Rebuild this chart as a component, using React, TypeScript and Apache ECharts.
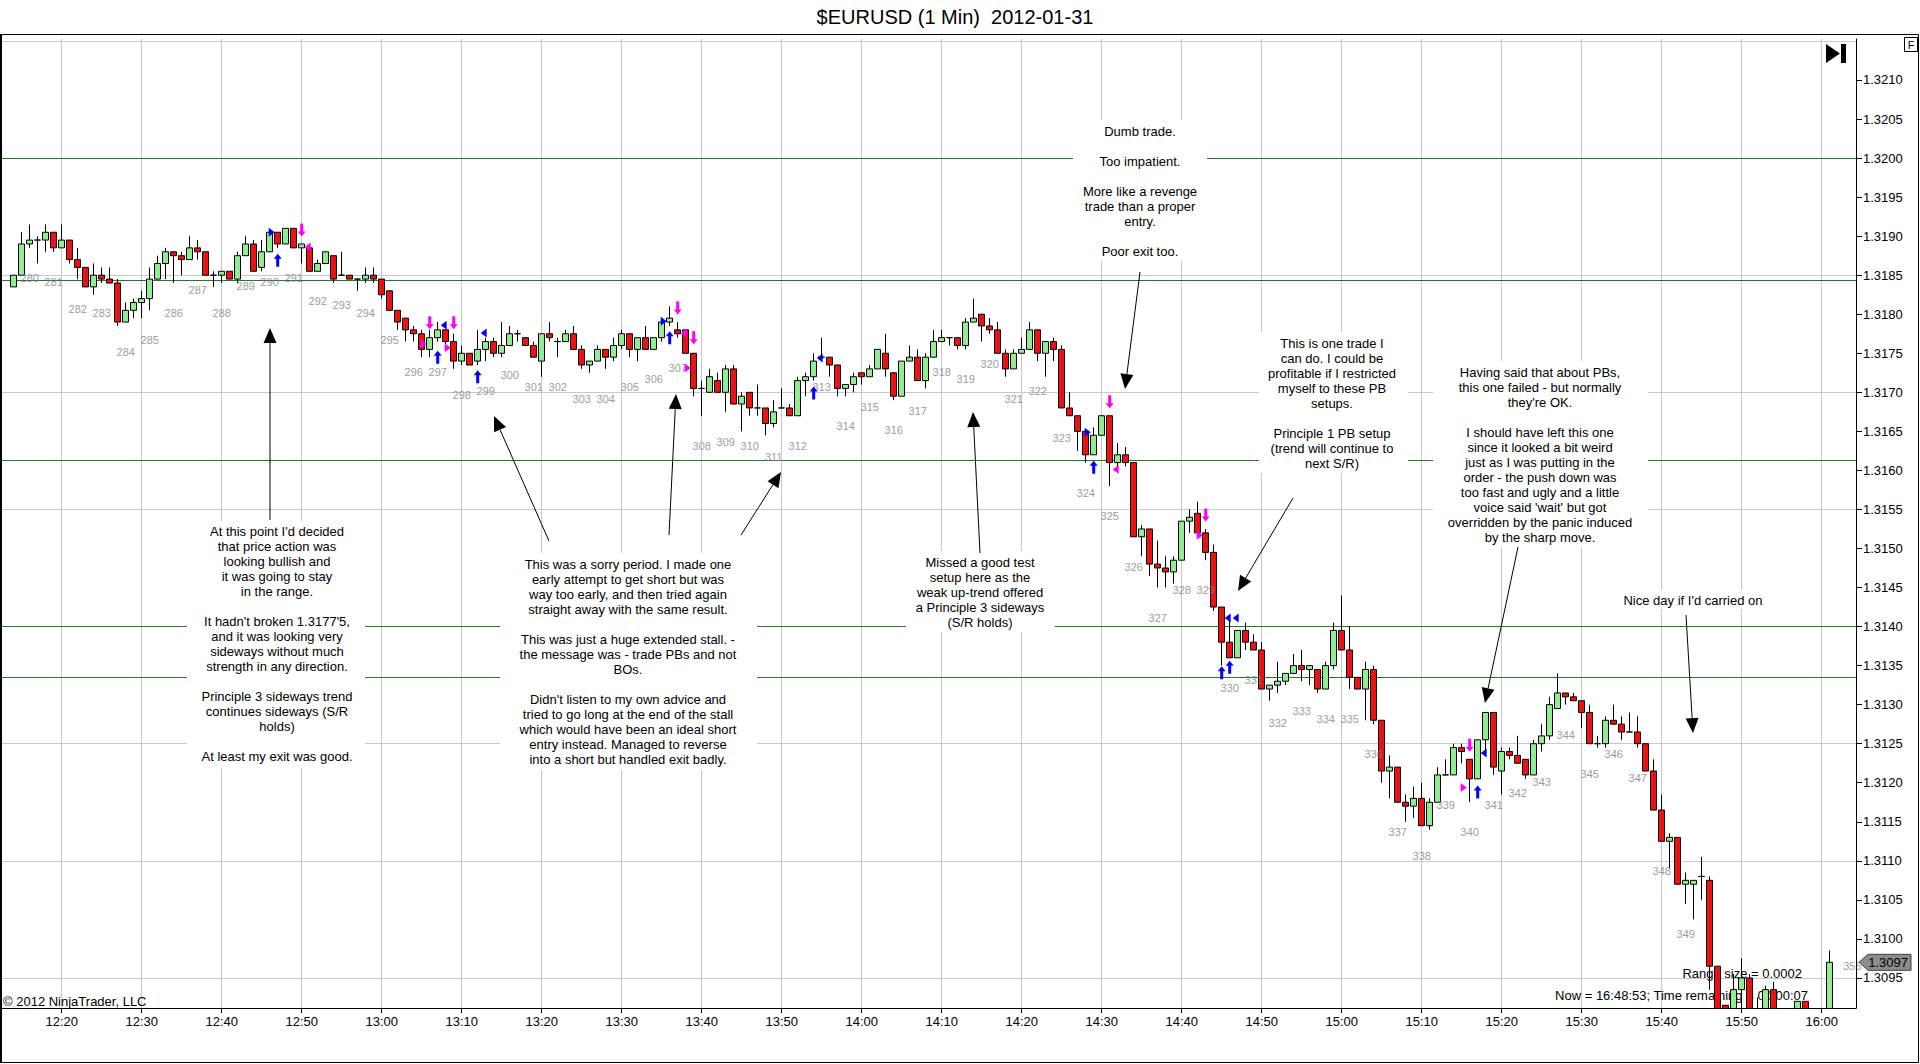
import React, { useEffect, useRef } from "react";
import * as echarts from "echarts";

type Bar = [string, number, number, number, number]; // time, open, high, low, close

const bars12: Bar[] = [
  ["12:14", 1.31835, 1.3185, 1.31835, 1.3185],
  ["12:15", 1.3185, 1.31905, 1.3185, 1.3189],
  ["12:16", 1.3189, 1.31915, 1.31885, 1.31895],
  ["12:17", 1.31895, 1.319, 1.31865, 1.31895],
  ["12:18", 1.31895, 1.31915, 1.3188, 1.31905],
  ["12:19", 1.31905, 1.31905, 1.3188, 1.31885],
  ["12:20", 1.31885, 1.31915, 1.31885, 1.31895],
  ["12:21", 1.31895, 1.31895, 1.31865, 1.3187],
  ["12:22", 1.3187, 1.31885, 1.31845, 1.3186],
  ["12:23", 1.3186, 1.3186, 1.31835, 1.31835],
  ["12:24", 1.31835, 1.31865, 1.31825, 1.3185],
  ["12:25", 1.3185, 1.3186, 1.3184, 1.31845],
  ["12:26", 1.31845, 1.3186, 1.3184, 1.3184],
  ["12:27", 1.3184, 1.31845, 1.31785, 1.3179],
  ["12:28", 1.3179, 1.31815, 1.3179, 1.31805],
  ["12:29", 1.31805, 1.3182, 1.31795, 1.31815],
  ["12:30", 1.31815, 1.3183, 1.31795, 1.3182],
  ["12:31", 1.3182, 1.3186, 1.31805, 1.31845],
  ["12:32", 1.31845, 1.31875, 1.31845, 1.31865],
  ["12:33", 1.31865, 1.31885, 1.31845, 1.3188],
  ["12:34", 1.3188, 1.3188, 1.3184, 1.31875],
  ["12:35", 1.31875, 1.3188, 1.3185, 1.3187],
  ["12:36", 1.3187, 1.319, 1.3187, 1.31885],
  ["12:37", 1.31885, 1.31895, 1.3187, 1.3188],
  ["12:38", 1.3188, 1.3188, 1.3185, 1.3185],
  ["12:39", 1.3185, 1.31855, 1.31835, 1.3185],
  ["12:40", 1.3185, 1.31855, 1.3184, 1.31855],
  ["12:41", 1.31855, 1.31855, 1.31845, 1.31845],
  ["12:42", 1.31845, 1.3188, 1.3184, 1.31875],
  ["12:43", 1.31875, 1.319, 1.31875, 1.3189],
  ["12:44", 1.3189, 1.31895, 1.31855, 1.31855],
  ["12:45", 1.3186, 1.31895, 1.31855, 1.3188],
  ["12:46", 1.3188, 1.31905, 1.3188, 1.31905],
  ["12:47", 1.31905, 1.31905, 1.31885, 1.3189],
  ["12:48", 1.3189, 1.3191, 1.3189, 1.3191],
  ["12:49", 1.3191, 1.3191, 1.31885, 1.31885],
  ["12:50", 1.31885, 1.3189, 1.31865, 1.3189],
  ["12:51", 1.31885, 1.3189, 1.31855, 1.31855],
  ["12:52", 1.31855, 1.3187, 1.31855, 1.31865],
  ["12:53", 1.31865, 1.3188, 1.31865, 1.3188],
  ["12:54", 1.31875, 1.31875, 1.3184, 1.31845],
  ["12:55", 1.3185, 1.3188, 1.3185, 1.3185],
  ["12:56", 1.3185, 1.3185, 1.31845, 1.31845],
  ["12:57", 1.31845, 1.31845, 1.3183, 1.31845],
  ["12:58", 1.31845, 1.3186, 1.3184, 1.3185],
  ["12:59", 1.3185, 1.3186, 1.3184, 1.31845],
];

const bars13: Bar[] = [
  ["13:00", 1.31845, 1.31845, 1.3182, 1.31825],
  ["13:01", 1.3183, 1.3183, 1.31805, 1.31805],
  ["13:02", 1.31805, 1.31805, 1.3178, 1.3179],
  ["13:03", 1.31795, 1.31795, 1.31765, 1.3178],
  ["13:04", 1.3178, 1.31785, 1.31765, 1.31775],
  ["13:05", 1.31775, 1.3178, 1.31745, 1.31755],
  ["13:06", 1.31755, 1.3178, 1.31745, 1.3177],
  ["13:07", 1.3177, 1.3179, 1.31765, 1.3178],
  ["13:08", 1.3178, 1.3178, 1.3176, 1.31765],
  ["13:09", 1.31765, 1.31775, 1.3173, 1.3174],
  ["13:10", 1.3174, 1.3176, 1.31735, 1.3175],
  ["13:11", 1.3175, 1.3175, 1.31735, 1.31735],
  ["13:12", 1.3174, 1.3178, 1.31735, 1.31755],
  ["13:13", 1.31755, 1.3177, 1.3174, 1.31765],
  ["13:14", 1.31765, 1.3177, 1.31745, 1.3175],
  ["13:15", 1.3175, 1.3179, 1.31745, 1.3176],
  ["13:16", 1.3176, 1.31785, 1.3176, 1.31775],
  ["13:17", 1.31775, 1.3178, 1.31765, 1.31775],
  ["13:18", 1.3177, 1.3177, 1.3176, 1.3176],
  ["13:19", 1.3176, 1.31765, 1.31745, 1.31745],
  ["13:20", 1.3174, 1.31775, 1.3172, 1.31775],
  ["13:21", 1.31775, 1.3179, 1.31765, 1.3177],
  ["13:22", 1.31765, 1.3177, 1.31745, 1.31765],
  ["13:23", 1.31765, 1.3178, 1.31765, 1.31775],
  ["13:24", 1.31775, 1.31785, 1.31755, 1.31755],
  ["13:25", 1.31755, 1.3176, 1.3173, 1.31735],
  ["13:26", 1.31735, 1.3174, 1.31725, 1.3174],
  ["13:27", 1.3174, 1.3176, 1.3174, 1.31755],
  ["13:28", 1.31755, 1.31755, 1.3173, 1.31745],
  ["13:29", 1.31745, 1.3177, 1.3174, 1.3176],
  ["13:30", 1.3176, 1.3178, 1.31755, 1.31775],
  ["13:31", 1.31775, 1.31775, 1.31745, 1.31755],
  ["13:32", 1.31755, 1.3177, 1.3174, 1.3177],
  ["13:33", 1.3177, 1.31785, 1.31755, 1.31755],
  ["13:34", 1.31755, 1.3177, 1.31755, 1.3177],
  ["13:35", 1.3177, 1.3179, 1.31765, 1.3179],
  ["13:36", 1.3179, 1.3181, 1.31785, 1.31795],
  ["13:37", 1.3178, 1.3179, 1.3177, 1.31775],
  ["13:38", 1.3178, 1.3178, 1.3175, 1.3175],
  ["13:39", 1.3175, 1.3175, 1.31695, 1.31705],
  ["13:40", 1.31705, 1.31715, 1.3167, 1.31705],
  ["13:41", 1.317, 1.3173, 1.317, 1.3172],
  ["13:42", 1.31715, 1.31725, 1.317, 1.317],
  ["13:43", 1.317, 1.31735, 1.31675, 1.3173],
  ["13:44", 1.3173, 1.31735, 1.31685, 1.31685],
  ["13:45", 1.31685, 1.317, 1.3165, 1.31695],
  ["13:46", 1.317, 1.317, 1.3167, 1.3168],
  ["13:47", 1.3168, 1.3171, 1.3167, 1.3168],
  ["13:48", 1.3168, 1.3168, 1.31645, 1.3166],
  ["13:49", 1.3166, 1.3169, 1.31655, 1.31675],
  ["13:50", 1.3168, 1.31705, 1.3168, 1.3168],
  ["13:51", 1.3168, 1.31685, 1.3167, 1.3167],
  ["13:52", 1.3167, 1.3172, 1.3167, 1.31715],
  ["13:53", 1.31715, 1.31725, 1.31695, 1.3172],
  ["13:54", 1.3172, 1.3175, 1.31715, 1.3174],
  ["13:55", 1.31745, 1.3177, 1.31745, 1.31745],
  ["13:56", 1.31745, 1.31745, 1.3172, 1.31735],
  ["13:57", 1.31735, 1.31735, 1.31695, 1.31705],
  ["13:58", 1.31705, 1.3171, 1.31695, 1.3171],
  ["13:59", 1.3171, 1.31725, 1.317, 1.3172],
];

const bars14: Bar[] = [
  ["14:00", 1.31725, 1.31725, 1.3171, 1.3172],
  ["14:01", 1.3172, 1.31735, 1.3172, 1.3173],
  ["14:02", 1.3173, 1.31755, 1.3173, 1.31755],
  ["14:03", 1.3175, 1.31775, 1.3172, 1.3173],
  ["14:04", 1.31725, 1.31725, 1.3169, 1.31695],
  ["14:05", 1.31695, 1.3174, 1.31695, 1.3174],
  ["14:06", 1.3174, 1.3176, 1.3174, 1.31745],
  ["14:07", 1.31745, 1.31755, 1.31715, 1.31715],
  ["14:08", 1.31715, 1.3175, 1.31705, 1.31745],
  ["14:09", 1.31745, 1.3178, 1.31745, 1.31765],
  ["14:10", 1.31765, 1.3178, 1.31765, 1.3177],
  ["14:11", 1.3177, 1.3177, 1.3176, 1.3177],
  ["14:12", 1.3177, 1.3177, 1.31755, 1.3176],
  ["14:13", 1.3176, 1.31795, 1.31755, 1.3179],
  ["14:14", 1.3179, 1.3182, 1.3179, 1.31795],
  ["14:15", 1.318, 1.318, 1.31765, 1.31785],
  ["14:16", 1.31785, 1.31795, 1.31775, 1.3178],
  ["14:17", 1.3178, 1.3179, 1.3175, 1.3175],
  ["14:18", 1.3175, 1.31755, 1.3172, 1.3173],
  ["14:19", 1.3173, 1.31755, 1.3173, 1.3175],
  ["14:20", 1.3175, 1.3177, 1.3175, 1.31755],
  ["14:21", 1.31755, 1.3179, 1.31755, 1.3178],
  ["14:22", 1.3178, 1.3178, 1.3174, 1.3175],
  ["14:23", 1.3175, 1.31765, 1.3172, 1.31765],
  ["14:24", 1.31765, 1.3177, 1.3174, 1.31755],
  ["14:25", 1.31755, 1.3176, 1.3168, 1.3168],
  ["14:26", 1.3168, 1.317, 1.3167, 1.3167],
  ["14:27", 1.3167, 1.3167, 1.31625, 1.3165],
  ["14:28", 1.3165, 1.3165, 1.3161, 1.3162],
  ["14:29", 1.3162, 1.31655, 1.3162, 1.31645],
  ["14:30", 1.31645, 1.3167, 1.31645, 1.3167],
  ["14:31", 1.3167, 1.3167, 1.3158, 1.3161],
  ["14:32", 1.3161, 1.31635, 1.31605, 1.3162],
  ["14:33", 1.3162, 1.3163, 1.31605, 1.3161],
  ["14:34", 1.3161, 1.3161, 1.31515, 1.31515],
  ["14:35", 1.31515, 1.3153, 1.3149, 1.31525],
  ["14:36", 1.31525, 1.31525, 1.31465, 1.3148],
  ["14:37", 1.3148, 1.3151, 1.3145, 1.31475],
  ["14:38", 1.31475, 1.3149, 1.3145, 1.3147],
  ["14:39", 1.3147, 1.3149, 1.31455, 1.31485],
  ["14:40", 1.31485, 1.31535, 1.31485, 1.31535],
  ["14:41", 1.31535, 1.3155, 1.3152, 1.3154],
  ["14:42", 1.31545, 1.3156, 1.3152, 1.3152],
  ["14:43", 1.3152, 1.31525, 1.31485, 1.31495],
  ["14:44", 1.31495, 1.31505, 1.3142, 1.31425],
  ["14:45", 1.31425, 1.31425, 1.3135, 1.3138],
  ["14:46", 1.3138, 1.3141, 1.3136, 1.3136],
  ["14:47", 1.3136, 1.31395, 1.3136, 1.31395],
  ["14:48", 1.31395, 1.31405, 1.3137, 1.3138],
  ["14:49", 1.3138, 1.3139, 1.3137, 1.3137],
  ["14:50", 1.3137, 1.3138, 1.3132, 1.3132],
  ["14:51", 1.3132, 1.31325, 1.31305, 1.31325],
  ["14:52", 1.31325, 1.31355, 1.31315, 1.3133],
  ["14:53", 1.3133, 1.3134, 1.31325, 1.3134],
  ["14:54", 1.3134, 1.31365, 1.3134, 1.3135],
  ["14:55", 1.3135, 1.3137, 1.3133, 1.31345],
  ["14:56", 1.31345, 1.3135, 1.31325, 1.3135],
  ["14:57", 1.31345, 1.31345, 1.31315, 1.3132],
  ["14:58", 1.3132, 1.31355, 1.3132, 1.3135],
  ["14:59", 1.3135, 1.31405, 1.31345, 1.31395],
];

const bars15: Bar[] = [
  ["15:00", 1.31395, 1.3144, 1.3137, 1.3137],
  ["15:01", 1.3137, 1.314, 1.3132, 1.31335],
  ["15:02", 1.31335, 1.31335, 1.3132, 1.3132],
  ["15:03", 1.3132, 1.31355, 1.3128, 1.31345],
  ["15:04", 1.31345, 1.3135, 1.31275, 1.3128],
  ["15:05", 1.3128, 1.3128, 1.312, 1.31215],
  ["15:06", 1.31215, 1.31235, 1.3118, 1.3122],
  ["15:07", 1.3122, 1.3122, 1.31175, 1.31175],
  ["15:08", 1.31175, 1.31185, 1.3115, 1.3117],
  ["15:09", 1.3117, 1.31195, 1.31155, 1.3118],
  ["15:10", 1.3118, 1.312, 1.31145, 1.31145],
  ["15:11", 1.31145, 1.3118, 1.3114, 1.31175],
  ["15:12", 1.31175, 1.3122, 1.31175, 1.3121],
  ["15:13", 1.3121, 1.3123, 1.3121, 1.3121],
  ["15:14", 1.3121, 1.3125, 1.3121, 1.31245],
  ["15:15", 1.31245, 1.3125, 1.31225, 1.3124],
  ["15:16", 1.3123, 1.3123, 1.31175, 1.31205],
  ["15:17", 1.31205, 1.31255, 1.31205, 1.31255],
  ["15:18", 1.31255, 1.3129, 1.3124, 1.3129],
  ["15:19", 1.3129, 1.3129, 1.3121, 1.3122],
  ["15:20", 1.31215, 1.31245, 1.31185, 1.3124],
  ["15:21", 1.3124, 1.31245, 1.3123, 1.31235],
  ["15:22", 1.31235, 1.3126, 1.31225, 1.31225],
  ["15:23", 1.3123, 1.3123, 1.31205, 1.3121],
  ["15:24", 1.3121, 1.31255, 1.3121, 1.3125],
  ["15:25", 1.3125, 1.31275, 1.3124, 1.3126],
  ["15:26", 1.3126, 1.3131, 1.31255, 1.313],
  ["15:27", 1.31295, 1.3134, 1.31295, 1.31315],
  ["15:28", 1.31315, 1.31315, 1.313, 1.3131],
  ["15:29", 1.3131, 1.31315, 1.31305, 1.31305],
  ["15:30", 1.31305, 1.31305, 1.3127, 1.3129],
  ["15:31", 1.3129, 1.313, 1.3125, 1.3125],
  ["15:32", 1.3125, 1.3126, 1.31245, 1.3125],
  ["15:33", 1.3125, 1.31285, 1.31245, 1.3128],
  ["15:34", 1.3128, 1.313, 1.31275, 1.31275],
  ["15:35", 1.31275, 1.31285, 1.31255, 1.31265],
  ["15:36", 1.31265, 1.3129, 1.31265, 1.31265],
  ["15:37", 1.31265, 1.31285, 1.31245, 1.3125],
  ["15:38", 1.3125, 1.3125, 1.31215, 1.31215],
  ["15:39", 1.31215, 1.3123, 1.31165, 1.31165],
  ["15:40", 1.31165, 1.31185, 1.31125, 1.31125],
  ["15:41", 1.31125, 1.31135, 1.3109, 1.3113],
  ["15:42", 1.3113, 1.3113, 1.3107, 1.3107],
  ["15:43", 1.3107, 1.31085, 1.31045, 1.31075],
  ["15:44", 1.3107, 1.31075, 1.31025, 1.31075],
  ["15:45", 1.3108, 1.31105, 1.3105, 1.3108],
  ["15:46", 1.31075, 1.3108, 1.30935, 1.30965],
  ["15:47", 1.30965, 1.30965, 1.3087, 1.3088],
  ["15:48", 1.30915, 1.30915, 1.3088, 1.3089],
  ["15:49", 1.3089, 1.30955, 1.3088, 1.30935],
  ["15:50", 1.30935, 1.30975, 1.309, 1.3095],
  ["15:51", 1.3095, 1.30955, 1.3088, 1.3089],
  ["15:52", 1.309, 1.30925, 1.3088, 1.3089],
  ["15:53", 1.3089, 1.3094, 1.3088, 1.30935],
  ["15:54", 1.30935, 1.30945, 1.3088, 1.3089],
  ["15:55", 1.3089, 1.30905, 1.30875, 1.30895],
  ["15:56", 1.30895, 1.30905, 1.3088, 1.3089],
  ["15:57", 1.30895, 1.3092, 1.3089, 1.3092],
  ["15:58", 1.3092, 1.3092, 1.3089, 1.30895],
  ["15:59", 1.30895, 1.30905, 1.30885, 1.309],
];

const bars16: Bar[] = [
  ["16:00", 1.309, 1.3091, 1.3089, 1.30905],
  ["16:01", 1.30905, 1.30985, 1.309, 1.3097],
];

const timeTicks = [
  "12:20", "12:30", "12:40", "12:50", "13:00", "13:10", "13:20", "13:30", "13:40", "13:50", "14:00", "14:10",
  "14:20", "14:30", "14:40", "14:50", "15:00", "15:10", "15:20", "15:30", "15:40", "15:50", "16:00",
];
const priceTicks = [
  1.3095, 1.31, 1.3105, 1.311, 1.3115, 1.312, 1.3125, 1.313, 1.3135, 1.314, 1.3145, 1.315,
  1.3155, 1.316, 1.3165, 1.317, 1.3175, 1.318, 1.3185, 1.319, 1.3195, 1.32, 1.3205, 1.321,
];
const gridLevels = [1.3095, 1.311, 1.3125, 1.314, 1.3155, 1.317, 1.3185, 1.32, 1.3215];
const srLevels = [1.32, 1.31843, 1.31613, 1.31401, 1.31335];

const firstBarNumber = 280;
const firstNumberedBar = 2;
const barNumberStep = 3;

const longArrows: [string, number][] = [
  ["12:47", 1.31869], ["13:07", 1.31745], ["13:12", 1.3172], ["13:36", 1.3177], ["13:54", 1.31699],
  ["14:29", 1.31604], ["14:45", 1.31341], ["14:46", 1.31348], ["15:17", 1.31188],
];
const shortArrows: [string, number][] = [
  ["12:50", 1.31908], ["13:06", 1.31789], ["13:09", 1.31789], ["13:37", 1.31808], ["13:39", 1.3177],
  ["14:31", 1.31688], ["14:43", 1.31543], ["15:16", 1.31248],
];
const blueFillsRight: [string, number][] = [["12:47", 1.31905], ["13:36", 1.31791], ["14:29", 1.31649]];
const blueFillsLeft: [string, number][] = [
  ["13:07", 1.31786], ["13:12", 1.31776], ["13:54", 1.31744], ["14:45", 1.31411], ["14:46", 1.31411], ["15:17", 1.31238],
];
const pinkFillsRight: [string, number][] = [
  ["13:06", 1.31762], ["13:09", 1.31757], ["13:39", 1.31731], ["14:43", 1.31517], ["15:16", 1.31194],
];
const pinkFillsLeft: [string, number][] = [["12:50", 1.31886], ["13:37", 1.31776], ["14:31", 1.31601]];

const FONT = '"Liberation Sans", Arial, sans-serif';
const X_MIN = 12.2875;
const X_MAX = 244.2875;
const Y_MIN = 1.309115;
const Y_MAX = 1.321525;

const bars: Bar[] = [...bars12, ...bars13, ...bars14, ...bars15, ...bars16];

function toMin(t: string): number {
  const [h, m] = t.split(":").map(Number);
  return (h - 12) * 60 + m;
}
function fmtMin(v: number): string {
  const r = Math.round(v);
  const h = 12 + Math.floor(r / 60);
  const m = r % 60;
  return h + ":" + String(m).padStart(2, "0");
}

const annotations = [
  {
    cx: 277, top: 523.5, box: [187, 521, 178, 247],
    lines: [
      "At this point I'd decided", "that price action was", "looking bullish and", "it was going to stay", "in the range.", "",
      "It hadn't broken 1.3177'5,", "and it was looking very", "sideways without much", "strength in any direction.", "",
      "Principle 3 sideways trend", "continues sideways (S/R", "holds)", "", "At least my exit was good.",
    ],
  },
  {
    cx: 628, top: 557, box: [500, 553, 257, 217],
    lines: [
      "This was a sorry period. I made one", "early attempt to get short but was", "way too early, and then tried again",
      "straight away with the same result.", "", "This was just a huge extended stall. -", "the message was - trade PBs and not",
      "BOs.", "", "Didn't listen to my own advice and", "tried to go long at the end of the stall",
      "which would have been an ideal short", "entry instead. Managed to reverse", "into a short but handled exit badly.",
    ],
  },
  {
    cx: 980, top: 554.5, box: [906, 551, 149, 81],
    lines: ["Missed a good test", "setup here as the", "weak up-trend offered", "a Principle 3 sideways", "(S/R holds)"],
  },
  {
    cx: 1140, top: 123.5, box: [1073, 120, 134, 141],
    lines: ["Dumb trade.", "", "Too impatient.", "", "More like a revenge", "trade than a proper", "entry.", "", "Poor exit too."],
  },
  {
    cx: 1332, top: 335.5, box: [1259, 332, 149, 141],
    lines: [
      "This is one trade I", "can do. I could be", "profitable if I restricted", "myself to these PB", "setups.", "",
      "Principle 1 PB setup", "(trend will continue to", "next S/R)",
    ],
  },
  {
    cx: 1540, top: 364.5, box: [1433, 361, 215, 186],
    lines: [
      "Having said that about PBs,", "this one failed - but normally", "they're OK.", "", "I should have left this one",
      "since it looked a bit weird", "just as I was putting in the", "order - the push down was", "too fast and ugly and a little",
      "voice said 'wait' but got", "overridden by the panic induced", "by the sharp move.",
    ],
  },
  { cx: 1693, top: 592.5, box: [1618, 590, 150, 19], lines: ["Nice day if I'd carried on"] },
];

const arrows: [number, number, number, number][] = [
  [270, 520, 270, 328],
  [549, 541, 494, 416],
  [669, 535, 676, 394],
  [741, 535, 781, 472],
  [980, 553, 973, 412],
  [1140, 272, 1125, 389],
  [1293, 498, 1238, 591],
  [1518, 547, 1485, 703],
  [1686, 615, 1693, 733],
];

function arrowEls(x1: number, y1: number, x2: number, y2: number) {
  const dx = x2 - x1;
  const dy = y2 - y1;
  const len = Math.hypot(dx, dy);
  const ux = dx / len;
  const uy = dy / len;
  const hl = 15;
  const hw = 6.5;
  const bx = x2 - ux * hl;
  const by = y2 - uy * hl;
  return [
    { type: "line", z: 2, silent: true, shape: { x1, y1, x2: bx, y2: by }, style: { stroke: "#000", lineWidth: 1 } },
    {
      type: "polygon", z: 2, silent: true,
      shape: { points: [[x2, y2], [bx - uy * hw, by + ux * hw], [bx + uy * hw, by - ux * hw]] },
      style: { fill: "#000" },
    },
  ];
}

function txt(text: string, x: number, y: number, size: number, align: string, vAlign: string, z: number, fill = "#000") {
  return {
    type: "text", z, silent: true, x, y,
    style: {
      text, fill, font: `${size}px ${FONT}`, align, textAlign: align, verticalAlign: vAlign, textVerticalAlign: vAlign,
      lineHeight: 15,
    },
  };
}

function buildGraphics(markerY: number, lastLabel: string) {
  const els: any[] = [];
  annotations.forEach((a) => {
    els.push({
      type: "rect", z: 2, silent: true,
      shape: { x: a.box[0], y: a.box[1], width: a.box[2], height: a.box[3] },
      style: { fill: "#fff" },
    });
    els.push(txt(a.lines.join("\n"), a.cx, a.top, 13, "center", "top", 2));
  });
  arrows.forEach((ar) => els.push(...arrowEls(ar[0], ar[1], ar[2], ar[3])));
  // area below the plot hides the parts of candles that run out of the price range
  els.push({ type: "rect", z: 6, silent: true, shape: { x: 0, y: 1008, width: 1856, height: 56 }, style: { fill: "#fff" } });
  els.push({ type: "rect", z: 6, silent: true, shape: { x: 0, y: 34, width: 1920, height: 5 }, style: { fill: "#fff" } });
  els.push(txt("$EURUSD (1 Min)  2012-01-31", 955, 17, 20, "center", "middle", 8));
  els.push(txt("\u00a9 2012 NinjaTrader, LLC", 3, 1001, 13, "left", "middle", 2));
  els.push(txt("Range size = 0.0002", 1802, 973, 13, "right", "middle", 2));
  els.push(txt("Now = 16:48:53; Time remaining = 00:00:07", 1808, 995, 13, "right", "middle", 2));
  els.push({
    type: "rect", z: 8, silent: true, shape: { x: 0.5, y: 34.5, width: 1918, height: 1028 },
    style: { fill: "none", stroke: "#000", lineWidth: 1 },
  });
  els.push({
    type: "line", z: 8, silent: true, shape: { x1: 1, y1: 34, x2: 1, y2: 1063 },
    style: { stroke: "#000", lineWidth: 2 },
  });
  els.push({
    type: "rect", z: 8, silent: true, shape: { x: 1904.5, y: 37.5, width: 13, height: 14 },
    style: { fill: "#fff", stroke: "#000", lineWidth: 1 },
  });
  els.push(txt("F", 1911, 45, 11, "center", "middle", 9));
  els.push({
    type: "polygon", z: 8, silent: true, shape: { points: [[1826, 44], [1840, 53.5], [1826, 63]] }, style: { fill: "#000" },
  });
  els.push({ type: "rect", z: 8, silent: true, shape: { x: 1841, y: 44, width: 5, height: 19 }, style: { fill: "#000" } });
  els.push({
    type: "polygon", z: 8, silent: true,
    shape: { points: [[1859, markerY], [1868, markerY - 8], [1911, markerY - 8], [1911, markerY + 8], [1868, markerY + 8]] },
    style: { fill: "#8c8c8c", stroke: "#404040", lineWidth: 1 },
  });
  els.push(txt(lastLabel, 1888, markerY, 13, "center", "middle", 9));
  return els;
}

const UP_ARROW = "path://M4,0 L8,5 L5.5,5 L5.5,13 L2.5,13 L2.5,5 L0,5 Z";
const DOWN_ARROW = "path://M2.5,0 L5.5,0 L5.5,8 L8,8 L4,13 L0,8 L2.5,8 Z";
const TRI_RIGHT = "path://M0,0 L8,5 L0,10 Z";
const TRI_LEFT = "path://M8,0 L0,5 L8,10 Z";

function markerSeries(points: [string, number][], symbol: string, size: number[], color: string, offset: number[]) {
  return {
    type: "scatter", z: 5, silent: true, symbol, symbolSize: size, symbolOffset: offset,
    itemStyle: { color, opacity: 1 },
    data: points.map(([t, p]) => [toMin(t), p]),
  };
}

function buildOption() {
  const candleData = bars.map(([t, o, h, l, c]) => [toMin(t), o, c, l, h]);
  const timeValues = timeTicks.map(toMin);

  const labelData: any[] = [];
  bars.forEach((b, i) => {
    if (i < firstNumberedBar || (i - firstNumberedBar) % barNumberStep !== 0) return;
    const n = firstBarNumber + (i - firstNumberedBar) / barNumberStep;
    if (i === bars.length - 1) {
      labelData.push({ value: [toMin(b[0]), b[4], n], label: { position: "right", distance: 13, offset: [0, 4] } });
    } else if (b[3] >= 1.3096) {
      labelData.push({ value: [toMin(b[0]), b[3], n] });
    }
  });

  const gray = { color: "#c8c8c8", width: 1, type: "solid" };
  const green = { color: "#1e7b1e", width: 1, type: "solid" };
  const lineData: any[] = [
    ...gridLevels.map((v) => ({ yAxis: v, lineStyle: gray })),
    ...timeValues.map((v) => ({ xAxis: v, lineStyle: gray })),
    ...srLevels.map((v) => ({ yAxis: v, lineStyle: green })),
  ];

  return {
    animation: false,
    backgroundColor: "#fff",
    grid: { left: 0, right: 64, top: 39, bottom: 56, containLabel: false, outerBoundsMode: "none" },
    xAxis: {
      type: "value", min: X_MIN, max: X_MAX, z: 7,
      axisLine: { show: true, onZero: false, lineStyle: { color: "#000", width: 1 } },
      axisTick: { show: true, length: 5, customValues: timeValues, lineStyle: { color: "#000" } },
      axisLabel: { customValues: timeValues, formatter: fmtMin, color: "#000", fontSize: 13, fontFamily: FONT, margin: 7 },
      splitLine: { show: false },
    },
    yAxis: {
      type: "value", position: "right", min: Y_MIN, max: Y_MAX, z: 7,
      axisLine: { show: true, onZero: false, lineStyle: { color: "#000", width: 1 } },
      axisTick: { show: true, length: 6, customValues: priceTicks, lineStyle: { color: "#000" } },
      axisLabel: {
        customValues: priceTicks, formatter: (v: number) => v.toFixed(4), color: "#000", fontSize: 13,
        fontFamily: FONT, margin: 7,
      },
      splitLine: { show: false },
    },
    series: [
      {
        type: "candlestick", z: 3, barWidth: 6, silent: true, data: candleData,
        itemStyle: { color: "#90ee90", color0: "#ee1111", borderColor: "#000", borderColor0: "#000", borderWidth: 1 },
        markLine: {
          z: 1, silent: true, symbol: ["none", "none"], precision: 6, animation: false,
          label: { show: false }, emphasis: { disabled: true }, data: lineData,
        },
      },
      {
        type: "scatter", z: 4, silent: true, symbolSize: 1, itemStyle: { color: "rgba(0,0,0,0)" },
        data: labelData,
        label: {
          show: true, position: "bottom", distance: 24, color: "#808080", fontSize: 11, fontFamily: FONT,
          formatter: (p: any) => String(p.value[2]),
        },
      },
      markerSeries(longArrows, UP_ARROW, [8, 13], "#0000ff", [0, 0]),
      markerSeries(shortArrows, DOWN_ARROW, [8, 13], "#ff00ff", [0, 0]),
      markerSeries(blueFillsRight, TRI_RIGHT, [6, 9], "#0000ff", [-6, 0]),
      markerSeries(blueFillsLeft, TRI_LEFT, [6, 9], "#0000ff", [6, 0]),
      markerSeries(pinkFillsRight, TRI_RIGHT, [6, 9], "#ff00ff", [-6, 0]),
      markerSeries(pinkFillsLeft, TRI_LEFT, [6, 9], "#ff00ff", [6, 0]),
    ],
  };
}

export default function App() {
  const ref = useRef<HTMLDivElement>(null);
  useEffect(() => {
    document.body.style.margin = "0";
    const chart = echarts.init(ref.current as HTMLDivElement, null, { renderer: "svg" });
    chart.setOption(buildOption() as any);
    const last = bars[bars.length - 1];
    const y = chart.convertToPixel({ yAxisIndex: 0 }, last[4]) as number;
    chart.setOption({ graphic: { elements: buildGraphics(y, last[4].toFixed(4)) } } as any);
    return () => chart.dispose();
  }, []);
  return <div ref={ref} style={{ width: 1920, height: 1064 }} />;
}
